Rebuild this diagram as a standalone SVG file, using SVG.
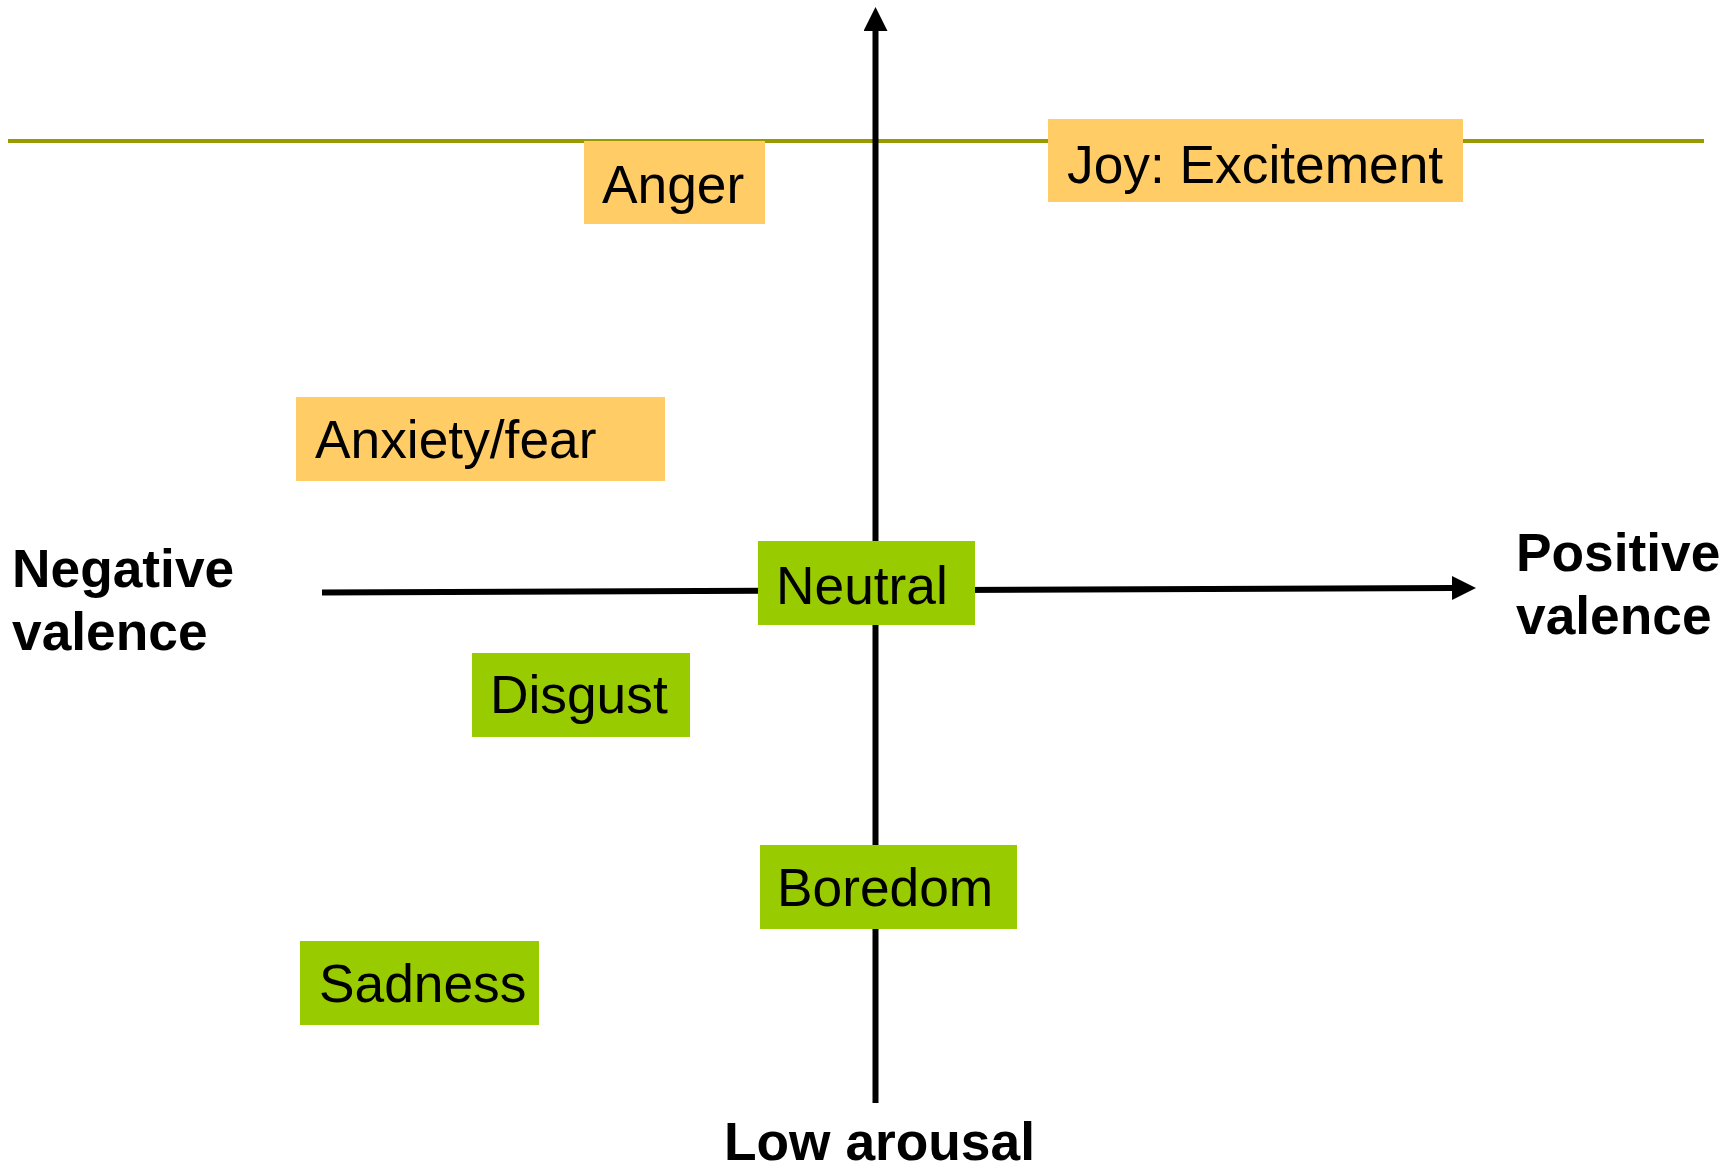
<svg xmlns="http://www.w3.org/2000/svg" width="1725" height="1168" viewBox="0 0 1725 1168">
<style>
  .lbl { font-family: "Liberation Sans", Arial, sans-serif; font-size: 53.3px; fill: #000; }
  .axis-lbl { font-family: "Liberation Sans", Arial, sans-serif; font-size: 53.3px; font-weight: bold; fill: #000; }
  .hot { fill: #FFCC66; }
  .calm { fill: #99CC00; }
  .axis { stroke: #000; stroke-width: 6; fill: none; }
  .ref { stroke: #999900; stroke-width: 4; fill: none; }
</style>
<defs>
  <marker id="arrow" markerUnits="userSpaceOnUse" markerWidth="24" markerHeight="24" refX="1" refY="12" orient="auto" viewBox="0 0 24 24">
    <path d="M0,0 L24,12 L0,24 Z" fill="#000"/>
  </marker>
</defs>
<rect x="0" y="0" width="1725" height="1168" fill="#fff"/>
<g id="connectors">
  <line class="ref" x1="8" y1="141" x2="1704" y2="141"/>
  <line class="axis" x1="875.5" y1="1103" x2="875.5" y2="30" marker-end="url(#arrow)"/>
  <line class="axis" x1="322" y1="592.5" x2="1453" y2="588" marker-end="url(#arrow)"/>
</g>
<g id="node-anger">
  <rect class="hot" x="584" y="141" width="181" height="83"/>
  <text class="lbl" x="602" y="203">Anger</text>
</g>
<g id="node-joy">
  <rect class="hot" x="1048" y="119" width="415" height="83"/>
  <text class="lbl" x="1067" y="183">Joy: Excitement</text>
</g>
<g id="node-anxiety">
  <rect class="hot" x="296" y="397" width="369" height="84"/>
  <text class="lbl" x="315" y="458">Anxiety/fear</text>
</g>
<g id="node-neutral">
  <rect class="calm" x="758" y="541" width="217" height="84"/>
  <text class="lbl" x="776" y="604">Neutral</text>
</g>
<g id="node-disgust">
  <rect class="calm" x="472" y="653" width="218" height="84"/>
  <text class="lbl" x="490" y="713">Disgust</text>
</g>
<g id="node-boredom">
  <rect class="calm" x="760" y="845" width="257" height="84"/>
  <text class="lbl" x="777" y="906">Boredom</text>
</g>
<g id="node-sadness">
  <rect class="calm" x="300" y="941" width="239" height="84"/>
  <text class="lbl" x="319" y="1002">Sadness</text>
</g>
<g id="label-negative">
  <text class="axis-lbl" x="12" y="587">Negative</text>
  <text class="axis-lbl" x="12" y="650">valence</text>
</g>
<g id="label-positive">
  <text class="axis-lbl" x="1516" y="571">Positive</text>
  <text class="axis-lbl" x="1516" y="634">valence</text>
</g>
<g id="label-low">
  <text class="axis-lbl" x="724" y="1160">Low arousal</text>
</g>
</svg>
